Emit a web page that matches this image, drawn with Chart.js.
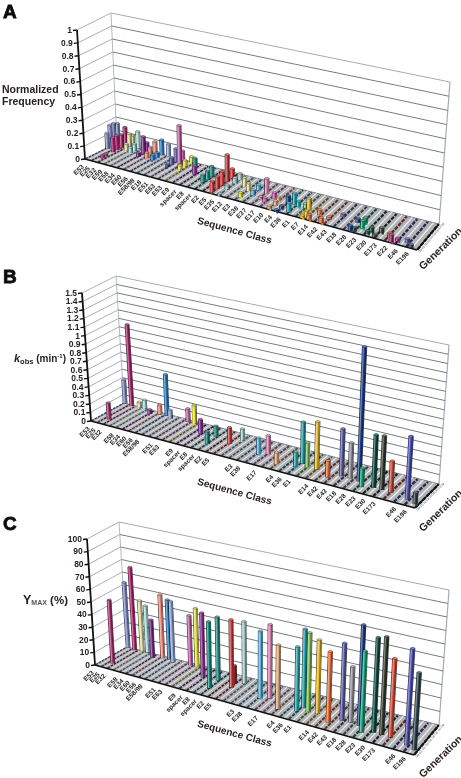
<!DOCTYPE html>
<html><head><meta charset="utf-8">
<script src="https://cdn.jsdelivr.net/npm/chart.js@4"></script>
<style>
html,body{margin:0;padding:0;background:#fff;width:461px;height:778px;overflow:hidden}
canvas{position:absolute;left:0;filter:blur(0.4px)}
</style></head><body>
<canvas id="pa" width="461" height="276" style="top:0"></canvas>
<canvas id="pb" width="461" height="275" style="top:260px"></canvas>
<canvas id="pc" width="461" height="263" style="top:515px"></canvas>
<script>
// ---------- data ----------
const sequenceClasses = ['E53','E25','E32','E59','E58','E34','E60','E56','E58/98','E18','E51','E63','E53','E9','spacer','E8','spacer','E2','E5','E35','E12','E3','E38','E37','E17','E10','E4','E36','E1','E7','E14','E42','E43','E18','E28','E23','E30','E173','E22','E46','E196'];
const labelledKinetics = [0,1,2,4,5,6,7,8,10,11,13,14,15,16,17,18,21,22,24,26,27,28,30,31,32,33,34,35,36,37,39,40];
const generationTicks = ['G0','G1','G2','G3','G4','G5','G6','G7','G8'];
const freqTicks = ['0','0.1','0.2','0.3','0.4','0.5','0.6','0.7','0.8','0.9','1'];
const kobsTicks = ['0','0.1','0.2','0.3','0.4','0.5','0.6','0.7','0.8','0.9','1','1.1','1.2','1.3','1.4','1.5'];
const ymaxTicks = ['0','10','20','30','40','50','60','70','80','90','100'];
const barColors = ['#a8306e','#7f8cc8','#b0246e','#e0dca0','#a6dcd8','#7c2a90','#ec8a7c','#2a7cc4','#95a5d0','#c863ac','#e6e23c','#8a2c98','#0f8c80','#1e9086','#d83c3c','#8c2c2c','#a5cccc','#5cb4dc','#dc84b4','#e4ac7c','#22aab4','#20a4ac','#84c454','#ecbc24','#ec6c34','#5c5ca4','#94949c','#1c3c8c','#10a474','#0c4c3c','#343c2c','#d44c34','#4c4cb4','#2c444c'];
// panels B and C: one clone per bar
const cloneClass = [1.6,0.2,1.5,2.6,3.5,5.1,6.3,7.3,8.2,10.6,11.6,13.8,16,15.8,18.1,17.9,18.9,22.2,23.1,25,26.9,27.2,28,29,30.7,31.7,32.6,33.6,34.3,35.3,36.1,37,38.8,39.7];
const cloneGen = [.26,1,.97,1,1,.85,.93,.95,.87,.93,.92,.62,.31,.65,.53,.68,.76,.42,.5,.23,.33,.49,.4,.42,.25,.42,.43,.4,.23,.32,.32,.31,.22,.14];
const kobsValues = [.19,.28,.96,.06,.1,.05,.11,.48,.1,.15,.21,.16,.14,.12,.18,0,.13,.18,.21,.13,.16,.46,.27,.52,.18,.51,.38,1.44,.2,.56,.57,.33,.66,.12];
const ymaxValues = [50,52,66,40,37,30,50,47,48,39,46,50,51,49,52,14,48,51,56,48,48,59,59,55,52,57,41,74,59,69,71,57,69,55];
// panel A: pool frequencies
const freqClass = [.2,.2,.2,.2,1.5,1.5,1.5,1.6,1.6,1.6,2.6,2.6,2.6,3.5,3.5,3.5,5.1,5.1,5.1,6.3,6.3,6.3,7.3,7.3,7.3,8.2,10,10,10,10.6,10.6,11.6,11.6,11.6,12.5,13.8,15.8,15.8,15.8,18,18,18,18,18,19,19,19,19,20.3,21.2,21.2,22.1,22,23.1,23.2,23.9,25,24.3,25.2,25,25.9,26,26,26.7,27,27.3,28.5,29,28.7,28,29.8,30.7,29.4,31,31.9,33.6,33.6,34.4,34.2,33.9,35.2,35.4,36,36.2,37.2,37.6,38,38.8,39.4];
const freqGen = [.67,.77,.88,1,.6,.72,.87,.97,.25,.35,.8,.9,1,.75,.88,1,.68,.85,.96,.7,.81,.97,.68,.82,.98,1,.57,.7,.85,.83,.93,.6,.77,1,.9,.57,.34,.5,.65,.07,.25,.42,.6,.78,.05,.32,.6,.78,.57,.16,.45,.35,.58,.54,.28,.23,.03,.45,.2,.38,0,.42,.17,.42,.1,.37,.35,.07,.02,.4,.3,.02,.03,.22,.44,.05,.37,.22,.42,.1,.1,.18,.05,.25,.15,.02,.12,.16,.03];
const freqValues = [.12,.17,.17,.155,.11,.11,.1,.145,.02,.02,.05,.115,.09,.04,.05,.13,.03,.13,.07,.045,.07,.09,.04,.04,.115,.09,.02,.05,.1,.285,.08,.03,.045,.04,.055,.06,.055,.06,.075,.08,.09,.1,.2,.07,.01,.03,.045,.05,.07,.035,.06,.04,.04,.11,.02,.03,.02,.04,.035,.03,.015,.05,.02,.08,.065,.04,.085,.05,.02,.03,.035,.04,.035,.02,.02,.035,.03,.055,.04,.02,.02,.035,.02,.035,.035,.055,.02,.025,.02];
const freqColorIdx = [1,1,1,1,2,2,2,2,0,0,3,3,3,4,4,4,5,5,5,6,6,6,7,7,7,8,27,25,25,9,9,10,10,10,12,11,13,13,13,14,14,14,14,14,16,16,16,16,3,10,3,17,17,18,18,9,19,9,19,19,27,27,27,20,20,21,23,23,23,22,24,24,24,24,25,27,27,28,28,29,29,29,30,30,31,2,2,32,33];

// ---------- geometry of each panel (page pixels) ----------
const panels = {
 A:{top:0,height:276,vmax:1,FL:[85,159],BL:[117,143],BR:[439,224],FR:[417,250],TFL:[77,30],TBL:[111,13],TBR:[450,82],TFR:[427,102]},
 B:{top:260,height:275,vmax:1.5,FL:[91,421],BL:[124,403],BR:[439,484],FR:[415,508],TFL:[82,293],TBL:[116,276],TBR:[449,345],TFR:[424,362]},
 C:{top:515,height:263,vmax:100,FL:[95,665],BL:[127,647],BR:[439,725],FR:[414,755],TFL:[87,539],TBL:[119,522],TBR:[449,590],TFR:[423,613]}
};
const lerp=(a,b,t)=>a+(b-a)*t;
const lerp2=(p,q,t)=>[lerp(p[0],q[0],t),lerp(p[1],q[1],t)];
const warp=c=>{const u=c/40;return u/(u+1.35*(1-u));};
function pagePoint(g,c,w,v){
  const uu=warp(c);
  const f=lerp2(lerp2(g.FL,g.FR,uu),lerp2(g.BL,g.BR,uu),w);
  const t=lerp2(lerp2(g.TFL,g.TFR,uu),lerp2(g.TBL,g.TBR,uu),w);
  return lerp2(f,t,v/g.vmax);
}
function ppu(g){return (g.FL[1]-g.TFL[1])/g.vmax;}
function pt(g,c,w,v){const p=pagePoint(g,c,w,v);return {x:p[0],y:(g.FL[1]-p[1])/ppu(g)};}
function mix(hex,target,t){
  const n=parseInt(hex.slice(1),16);const r=n>>16,gg=(n>>8)&255,b=n&255;
  return `rgb(${Math.round(lerp(r,target,t))},${Math.round(lerp(gg,target,t))},${Math.round(lerp(b,target,t))})`;
}
function nearestColor(c){let best=0,d=1e9;cloneClass.forEach((k,i)=>{const e=Math.abs(k-c);if(e<d){d=e;best=i;}});return barColors[best];}

function buildDatasets(g,ticks,classes,gens,vals,colors){
  const ds=[];
  const line=(data,color,width,order,extra)=>ds.push(Object.assign({type:'scatter',showLine:true,data,borderColor:color,backgroundColor:color,borderWidth:width,pointRadius:0,order,clip:false,borderCapStyle:'butt',tension:0},extra||{}));
  // floor
  line([pt(g,0,0,0),pt(g,40,0,0),pt(g,40,1,0),pt(g,0,1,0)],'rgba(0,0,0,0)',0,100000,{floor:true});
  // walls
  ticks.forEach((t,i)=>{const v=g.vmax*i/(ticks.length-1);
    const top=i===ticks.length-1;
    line([pt(g,0,0,v),pt(g,0,1,v)],'#a9afb6',1,90000);
    line([pt(g,0,1,v),pt(g,40,1,v)],top?'#a4acb8':'#777c82',1,90000);
  });
  line([pt(g,0,1,0),pt(g,0,1,g.vmax)],'#b3bac4',1,90000);
  line([pt(g,40,1,0),pt(g,40,1,g.vmax)],'#a4acb8',1.2,90000);
  // floor bands: one dashed row of empty cells per class
  for(let c=0;c<=40;c++){
    const uu=warp(c);
    if(c<40) line([pt(g,c+.5,0,0),pt(g,c+.5,1,0)],'rgba(255,255,255,.8)',lerp(.6,1.3,uu),80000);
    line([pt(g,c,.02,0),pt(g,c,.98,0)],mix(nearestColor(c),20,.65),lerp(1.3,2.4,uu),70000,{borderDash:[lerp(2.6,4,uu),lerp(.9,1.2,uu)]});
  }
  // floor edges
  line([pt(g,0,0,0),pt(g,40,0,0)],'#111',1.8,60000);
  line([pt(g,40,0,0),pt(g,40,1,0)],'#111',1.6,60000);
  line([pt(g,0,0,0),pt(g,0,0,g.vmax)],'#111',1.8,60000);
  // bars
  classes.forEach((c,i)=>{
    if(!vals[i]) return;
    const base=pt(g,c,gens[i],0),tip=pt(g,c,gens[i],vals[i]);
    const bw=lerp(3.6,4.2,warp(c));
    line([base,tip],colors[i],bw,Math.round(50000*gens[i])/10+1000-c,{barMark:true,barColor:colors[i],bw});
  });
  return ds;
}
const barDecor={
 id:'barDecor',
 beforeDatasetDraw(chart,args){
   const d=chart.data.datasets[args.index];const pts=args.meta.data;const ctx=chart.ctx;
   if(d.floor){
     ctx.save();ctx.beginPath();pts.forEach((p,i)=>i?ctx.lineTo(p.x,p.y):ctx.moveTo(p.x,p.y));ctx.closePath();ctx.fillStyle='#b2b3b8';ctx.fill();ctx.restore();
   }
   if(d.barMark){
     ctx.save();ctx.strokeStyle='rgba(20,20,25,.8)';ctx.lineWidth=d.bw+1.2;ctx.beginPath();ctx.moveTo(pts[0].x,pts[0].y+.4);ctx.lineTo(pts[1].x,pts[1].y);ctx.stroke();ctx.restore();
   }
 },
 afterDatasetDraw(chart,args){
   const d=chart.data.datasets[args.index];if(!d.barMark)return;
   const pts=args.meta.data,ctx=chart.ctx,a=pts[0],b=pts[1],w=d.bw;
   ctx.save();
   ctx.lineWidth=w*.3;ctx.strokeStyle=mix(d.barColor,255,.4);
   ctx.beginPath();ctx.moveTo(a.x-w*.28,a.y);ctx.lineTo(b.x-w*.28,b.y);ctx.stroke();
   ctx.strokeStyle=mix(d.barColor,0,.4);
   ctx.beginPath();ctx.moveTo(a.x+w*.32,a.y);ctx.lineTo(b.x+w*.32,b.y);ctx.stroke();
   ctx.fillStyle=mix(d.barColor,255,.3);ctx.strokeStyle='rgba(20,20,25,.7)';ctx.lineWidth=.5;
   ctx.beginPath();ctx.ellipse(b.x,b.y,w/2+.2,w/4,0,0,Math.PI*2);ctx.fill();ctx.stroke();
   ctx.restore();
 }
};
const INK='#2a2020';
function rotText(ctx,s,x,y,deg,font,color,align){
  ctx.save();ctx.translate(x,y);ctx.rotate(deg*Math.PI/180);ctx.font=font;ctx.fillStyle=color||INK;ctx.textAlign=align||'center';ctx.textBaseline='middle';ctx.fillText(s,0,0);ctx.restore();
}
function textPlugin(g,ticks,labelIdx,extra){
 return {id:'texts',afterDraw(chart){
   const ctx=chart.ctx,sx=chart.scales.x,sy=chart.scales.y;
   const px=p=>[sx.getPixelForValue(p.x),sy.getPixelForValue(p.y)];
   // value axis
   ticks.forEach((t,i)=>{
     const [x,y]=px(pt(g,0,0,g.vmax*i/(ticks.length-1)));
     ctx.save();ctx.strokeStyle='#111';ctx.lineWidth=1.4;ctx.beginPath();ctx.moveTo(x,y);ctx.lineTo(x-4,y+.5);ctx.stroke();ctx.restore();
     rotText(ctx,t,x-5,y+.5,0,'bold 8.5px "Liberation Sans"',INK,'right');
   });
   // class labels
   labelIdx.forEach(c=>{
     const [x,y]=px(pt(g,c,0,0));const uu=warp(c);
     rotText(ctx,sequenceClasses[c],x+lerp(-2,-9,uu),y+lerp(7,3,uu),-45,'bold 6.5px "Liberation Sans"','#262626','right');
   });
   // generation labels
   generationTicks.forEach((t,i)=>{
     const [x,y]=px(pt(g,40,i/(generationTicks.length-1),0));
     rotText(ctx,t,x+2,y+2,-40,'3px "Liberation Sans"','#444','left');
   });
   const o=-g.top;
   rotText(ctx,'Sequence Class',234.5,o+extra.seqY,15.4,'bold 10px "Liberation Sans"');
   rotText(ctx,'Generation',441,o+extra.genY,-44,'bold 10.5px "Liberation Sans"');
   extra.draw(ctx,o);
 }};
}
function make(id,g,ticks,classes,gens,vals,colors,labelIdx,extra){
  const u=ppu(g);
  new Chart(document.getElementById(id),{
    type:'scatter',
    data:{datasets:buildDatasets(g,ticks,classes,gens,vals,colors)},
    options:{responsive:false,animation:false,devicePixelRatio:1,layout:{padding:0},
      scales:{x:{type:'linear',display:false,min:0,max:461},
              y:{type:'linear',display:false,min:(g.FL[1]-(g.top+g.height))/u,max:(g.FL[1]-g.top)/u}},
      plugins:{legend:{display:false},tooltip:{enabled:false}}},
    plugins:[barDecor,textPlugin(g,ticks,labelIdx,extra)]
  });
}
const letter=(ctx,s,x,y)=>{ctx.save();ctx.font='900 19px "Liberation Sans"';ctx.fillStyle='#0c0c0c';ctx.strokeStyle='#0c0c0c';ctx.lineWidth=.8;ctx.textAlign='left';ctx.textBaseline='alphabetic';ctx.fillText(s,x,y);ctx.strokeText(s,x,y);ctx.restore();};
const allLabels=sequenceClasses.map((_,i)=>i);
make('pa',panels.A,freqTicks,freqClass,freqGen,freqValues,freqColorIdx.map(i=>barColors[i]),allLabels,{seqY:231,genY:249,draw(ctx,o){
  letter(ctx,'A',3,o+18);
  rotText(ctx,'Normalized',2,o+90,0,'bold 10.5px "Liberation Sans"',INK,'left');
  rotText(ctx,'Frequency',2,o+102,0,'bold 10.5px "Liberation Sans"',INK,'left');
}});
make('pb',panels.B,kobsTicks,cloneClass,cloneGen,kobsValues,barColors,labelledKinetics,{seqY:492,genY:511,draw(ctx,o){
  letter(ctx,'B',3,o+283);
  let x=14,y=o+359;
  const put=(s,f,dy)=>{ctx.font=f;ctx.fillStyle=INK;ctx.textAlign='left';ctx.textBaseline='middle';ctx.fillText(s,x,y+dy);x+=ctx.measureText(s).width;};
  put('k','italic bold 11px "Liberation Sans"',0);
  put('obs','bold 7.5px "Liberation Sans"',2.5);
  put(' (min','bold 10px "Liberation Sans"',0);
  put('-1','bold 6px "Liberation Sans"',-3);
  put(')','bold 10px "Liberation Sans"',0);
}});
make('pc',panels.C,ymaxTicks,cloneClass,cloneGen,ymaxValues,barColors,labelledKinetics,{seqY:734,genY:757,draw(ctx,o){
  letter(ctx,'C',3,o+530);
  let x=23,y=o+601;
  const put=(s,f,dy,c)=>{ctx.font=f;ctx.fillStyle=c||INK;ctx.textAlign='left';ctx.textBaseline='middle';ctx.fillText(s,x,y+dy);x+=ctx.measureText(s).width;};
  put('Y','bold 12.5px "Liberation Sans"',0);
  put('MAX','bold 7px "Liberation Sans"',2.5,'#555');
  put(' (%)','bold 11.5px "Liberation Sans"',0);
}});
</script>
</body></html>
